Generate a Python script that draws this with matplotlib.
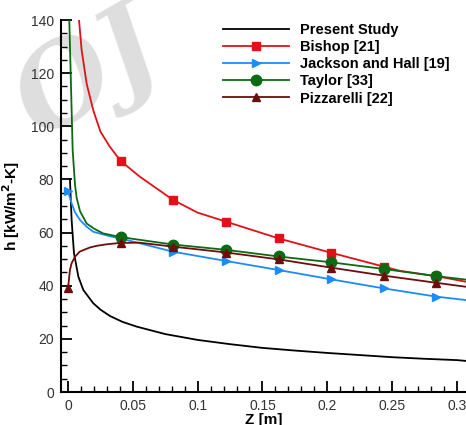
import matplotlib

matplotlib.use("Agg")
import matplotlib.pyplot as plt
from matplotlib.ticker import MultipleLocator

plt.rcParams["font.family"] = ["Liberation Sans", "DejaVu Sans"]

# marker stations along the tube
MARK_Z = [0.0, 0.0405, 0.081, 0.122, 0.1625, 0.203, 0.2435, 0.284]

present_z = [0.0015, 0.0028, 0.0046, 0.008, 0.0118, 0.0195, 0.025, 0.0324,
             0.042, 0.053, 0.075, 0.100, 0.125, 0.150, 0.175, 0.200, 0.225,
             0.250, 0.275, 0.300, 0.307]
present_h = [80.0, 64.7, 52.3, 43.4, 38.4, 33.4, 31.0, 28.6, 26.4, 24.6, 21.8,
             19.6, 18.0, 16.6, 15.6, 14.7, 13.9, 13.1, 12.5, 12.0, 11.7]

bishop_z = [0.0085, 0.0105, 0.0144, 0.0195, 0.025, 0.032, 0.0405, 0.0555,
            0.081, 0.100, 0.122, 0.1625, 0.203, 0.2435, 0.256, 0.284, 0.307]
bishop_h = [140.0, 128.7, 116.0, 106.0, 98.0, 92.5, 87.0, 81.0, 72.3, 67.5,
            64.1, 57.8, 52.4, 47.2, 45.6, 43.6, 41.5]

jackson_z = [0.0, 0.0028, 0.0055, 0.0093, 0.0144, 0.0195, 0.0324, 0.0405,
             0.081, 0.122, 0.1625, 0.203, 0.2435, 0.284, 0.307]
jackson_h = [75.6, 71.0, 67.5, 64.7, 62.2, 60.3, 58.6, 57.8, 52.8, 49.3, 45.9,
             42.4, 39.0, 35.9, 34.6]

taylor_z = [0.001, 0.0028, 0.0036, 0.0054, 0.0067, 0.0093, 0.0144, 0.020,
            0.027, 0.0405, 0.081, 0.122, 0.1625, 0.203, 0.2435, 0.284, 0.307]
taylor_h = [140.0, 106.0, 91.0, 78.0, 73.0, 68.0, 63.4, 61.5, 59.7, 58.3,
            55.5, 53.5, 51.0, 48.8, 46.3, 43.6, 42.3]

pizza_z = [0.0, 0.0015, 0.0028, 0.0054, 0.009, 0.0118, 0.017, 0.022, 0.030,
           0.0405, 0.055, 0.081, 0.122, 0.1625, 0.203, 0.2435, 0.284, 0.307]
pizza_h = [39.0, 45.9, 48.5, 50.9, 52.8, 53.4, 54.4, 55.0, 55.6, 56.1, 56.2,
           54.7, 52.5, 49.9, 46.8, 43.8, 41.1, 39.6]


def marks(zs):
    return [i for i, z in enumerate(zs) if z in MARK_Z]


fig = plt.figure(figsize=(4.66, 4.25), dpi=100)
ax = fig.add_axes([61 / 466, 33 / 425, 1 - 61 / 466, 372 / 425])
ax.patch.set_alpha(0)

# journal watermark behind the axes
fig.text(0.19, 0.82, "OJ", family="DejaVu Serif", style="italic",
         fontweight="bold", fontsize=80, color="#dedede", rotation=30,
         ha="center", va="center", zorder=-1)

ax.plot(present_z, present_h, color="black", lw=1.3, label="Present Study")
ax.plot(bishop_z, bishop_h, color="#e3101a", lw=1.3, marker="s", ms=6,
        markevery=marks(bishop_z), label="Bishop [21]")
ax.plot(jackson_z, jackson_h, color="#1a8cff", lw=1.3, marker=">", ms=6,
        markevery=marks(jackson_z), label="Jackson and Hall [19]")
ax.plot(taylor_z, taylor_h, color="#0b6a12", lw=1.3, marker="o", ms=7.5,
        markevery=marks(taylor_z), label="Taylor [33]")
ax.plot(pizza_z, pizza_h, color="#6e0d0d", lw=1.3, marker="^", ms=5.5,
        markevery=marks(pizza_z), label="Pizzarelli [22]")

ax.set_xlim(-0.0054, 0.307)
ax.set_ylim(0, 140)
ax.xaxis.set_minor_locator(MultipleLocator(0.01))
ax.yaxis.set_major_locator(MultipleLocator(20))
ax.yaxis.set_minor_locator(MultipleLocator(5))
ax.set_xticks([0, 0.05, 0.1, 0.15, 0.2, 0.25, 0.3],
              ["0", "0.05", "0.1", "0.15", "0.2", "0.25", "0.3"])

for side in ("top", "right"):
    ax.spines[side].set_visible(False)
for side in ("left", "bottom"):
    ax.spines[side].set_linewidth(1.5)

ax.tick_params(which="major", direction="in", length=8, width=1.3,
               labelsize=10, labelcolor="#333333", pad=5)
ax.tick_params(which="minor", direction="in", length=4, width=1.0)

ax.set_xlabel("Z [m]", fontsize=11, fontweight="bold", labelpad=0)
ax.set_ylabel("h [kW/m$^\\mathbf{2}$-K]", fontsize=11, fontweight="bold",
              labelpad=6)

ax.legend(loc="upper left", bbox_to_anchor=(0.375, 1.02), frameon=False,
          handlelength=4.5, handletextpad=0.8, labelspacing=0.22,
          borderaxespad=0.3, numpoints=1,
          prop={"weight": "bold", "size": 10.5})

fig.savefig("out.png", dpi=100)
